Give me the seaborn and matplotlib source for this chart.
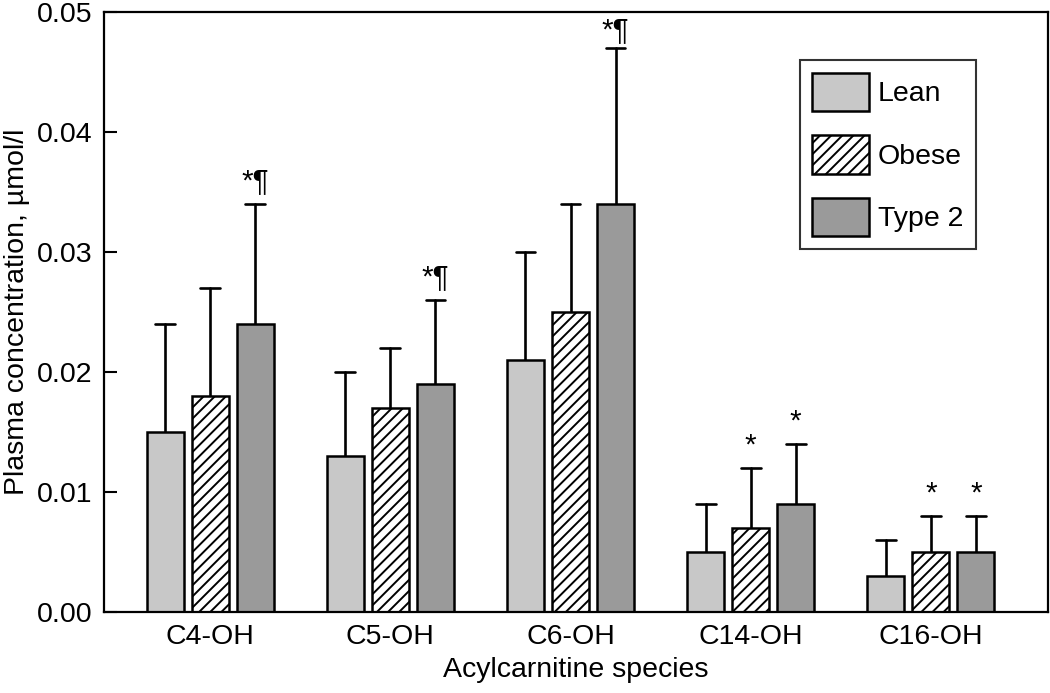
import numpy as np
import pandas as pd
import seaborn as sns
import matplotlib.pyplot as plt

# values
species = ["C4-OH", "C5-OH", "C6-OH", "C14-OH", "C16-OH"]
groups = ["Lean", "Obese", "Type 2"]

lean_mean = [0.015, 0.013, 0.021, 0.005, 0.003]
obese_mean = [0.018, 0.017, 0.025, 0.007, 0.005]
t2_mean = [0.024, 0.019, 0.034, 0.009, 0.005]

lean_sd = [0.009, 0.007, 0.009, 0.004, 0.003]
obese_sd = [0.009, 0.005, 0.009, 0.005, 0.003]
t2_sd = [0.010, 0.007, 0.013, 0.005, 0.003]

lean_mark = ["", "", "", "", ""]
obese_mark = ["", "", "", "*", "*"]
t2_mark = ["*¶", "*¶", "*¶", "*", "*"]

df = pd.DataFrame({
    "species": species * 3,
    "group": [g for g in groups for _ in species],
    "value": lean_mean + obese_mean + t2_mean,
    "sd": lean_sd + obese_sd + t2_sd,
    "mark": lean_mark + obese_mark + t2_mark,
})

sns.set_style("ticks")
plt.rcParams["font.family"] = ["Liberation Sans", "DejaVu Sans"]
plt.rcParams["hatch.linewidth"] = 1.4
for k in ["text.color", "axes.labelcolor", "xtick.color", "ytick.color", "axes.edgecolor"]:
    plt.rcParams[k] = "black"

fs = 20.5

fig = plt.figure(figsize=(10.5, 6.93), dpi=100)
ax = fig.add_axes([0.099, 0.117, 0.899, 0.866])

colors = {"Lean": "#c8c8c8", "Obese": "white", "Type 2": "#9a9a9a"}
sns.barplot(data=df, x="species", y="value", hue="group", hue_order=groups,
            order=species, palette=colors, width=0.75, gap=0.18,
            edgecolor="black", linewidth=1.8, saturation=1, ax=ax, zorder=2)

ymax = 0.05

# hatch the obese bars, upper error bars and markers
cap = 0.055
for gi, g in enumerate(groups):
    cont = ax.containers[gi]
    sub = df[df["group"] == g]
    for bar, (_, row) in zip(cont, sub.iterrows()):
        if g == "Obese":
            bar.set_hatch("///")
        xc = bar.get_x() + bar.get_width() / 2
        top = row["value"] + row["sd"]
        ax.plot([xc, xc], [row["value"], top], color="black", lw=1.9, zorder=1)
        ax.plot([xc - cap, xc + cap], [top, top], color="black", lw=1.9, zorder=1)
        if row["mark"]:
            # the tallest one is squeezed under the frame
            off = 0.0012 if top + 0.003 < ymax else 0.0008
            ax.text(xc, top + off, row["mark"], ha="center", va="baseline",
                    fontsize=fs + 1)

ax.set_ylim(0, ymax)
ax.set_xlim(-0.59, 4.65)
ax.set_yticks([0, 0.01, 0.02, 0.03, 0.04, 0.05])
ax.set_yticklabels(["0.00", "0.01", "0.02", "0.03", "0.04", "0.05"])
ax.tick_params(axis="y", direction="in", length=9, width=1.5, labelsize=fs, pad=8)
ax.tick_params(axis="x", length=0, labelsize=fs, pad=9)
for s in ax.spines.values():
    s.set_linewidth(1.6)
    s.set_visible(True)

ax.set_xlabel("Acylcarnitine species", fontsize=fs, labelpad=5)
ax.set_ylabel("Plasma concentration, µmol/l", fontsize=fs, labelpad=5)

leg = ax.legend(loc="upper right", bbox_to_anchor=(0.924, 0.92), fontsize=fs,
                frameon=True, fancybox=False, handlelength=2.0, handleheight=1.7,
                labelspacing=0.85, handletextpad=0.3, borderpad=0.45,
                borderaxespad=0, title=None)
leg.get_frame().set_edgecolor("black")
leg.get_frame().set_linewidth(1.5)
for h in leg.legend_handles:
    h.set_edgecolor("black")
    h.set_linewidth(1.8)
leg.legend_handles[1].set_hatch("///")

fig.savefig("out.png", dpi=100)
